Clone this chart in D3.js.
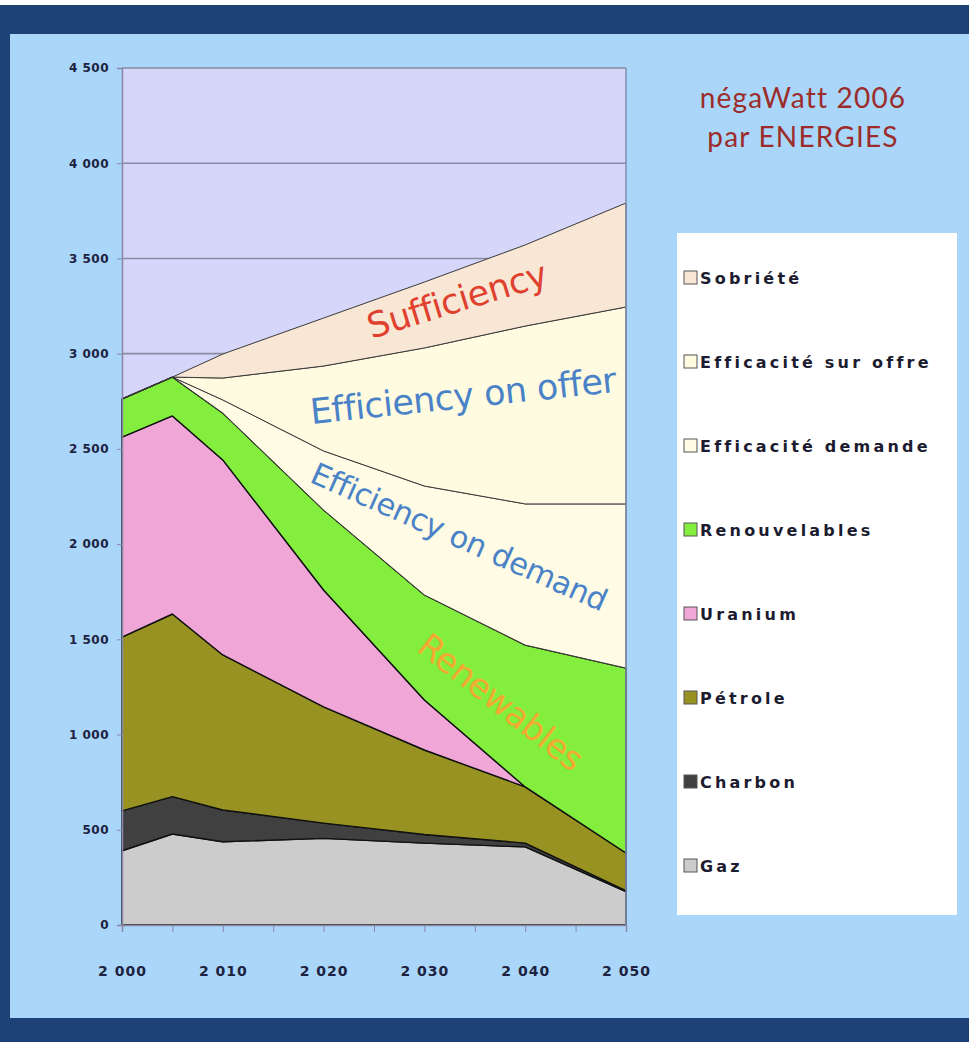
<!DOCTYPE html>
<html><head><meta charset="utf-8">
<script src="https://cdn.jsdelivr.net/npm/d3@7"></script>
<style>body{margin:0;} svg{display:block;}</style>
</head><body>
<script>
// ---- data ----
const years = [2000, 2005, 2010, 2020, 2030, 2040, 2050];
const gaz = [390, 478, 437, 455, 430, 410, 175];
const charbon = [209, 196, 167, 80, 45, 20, 5];
const petrole = [913, 959, 814, 610, 444, 295, 198];
const uranium = [1050, 1040, 1024, 614, 262, 0, 0];
const renouvelables = [200, 204, 246, 420, 552, 745, 971];
const efficaciteDemande = [0, 0, 69, 310, 572, 741, 862];
const efficaciteOffre = [0, 0, 115, 446, 725, 934, 1034];
const sobriete = [0, 0, 126, 252, 346, 426, 546];
const seriesNames = ["Gaz", "Charbon", "Pétrole", "Uranium", "Renouvelables", "Efficacité demande", "Efficacité sur offre", "Sobriété"];
const seriesColors = ["#cccccc", "#404040", "#989222", "#f0a6d6", "#84ee3e", "#fffbe4", "#fffbe0", "#f9e7d6"];
const yTicks = [0, 500, 1000, 1500, 2000, 2500, 3000, 3500, 4000, 4500];
const xTickLabels = [2000, 2010, 2020, 2030, 2040, 2050];
const title = ["négaWatt 2006", "par ENERGIES"];
const annotations = [
  {text: "Sufficiency", color: "#e0402e"},
  {text: "Efficiency on offer", color: "#4a82c8"},
  {text: "Efficiency on demand", color: "#4a82c8"},
  {text: "Renewables", color: "#f2aa30"}
];

const W = 969, H = 1042;
const svg = d3.select("body").append("svg").attr("width", W).attr("height", H);

// frame
svg.append("rect").attr("width", W).attr("height", H).attr("fill", "#1e4178");
svg.append("rect").attr("width", W).attr("height", 5).attr("fill", "#ffffff");
svg.append("rect").attr("x", 10).attr("y", 34).attr("width", W - 10).attr("height", 984).attr("fill", "#aad6f9");

const m = {left: 122, right: 626, top: 68, bottom: 925};
const x = d3.scaleLinear().domain([2000, 2050]).range([m.left, m.right]);
const y = d3.scaleLinear().domain([0, 4500]).range([m.bottom, m.top]);

// plot background
svg.append("rect").attr("x", m.left).attr("y", m.top).attr("width", m.right - m.left).attr("height", m.bottom - m.top).attr("fill", "#d6d6fa");

// gridlines
svg.append("g").selectAll("line").data(yTicks.filter(d => d > 0)).join("line")
  .attr("x1", m.left).attr("x2", m.right).attr("y1", d => y(d)).attr("y2", d => y(d))
  .attr("stroke", "#8a8aa2").attr("stroke-width", 1.6);

// stacked areas
const table = years.map((yr, i) => ({
  year: yr,
  "Gaz": gaz[i], "Charbon": charbon[i], "Pétrole": petrole[i], "Uranium": uranium[i],
  "Renouvelables": renouvelables[i], "Efficacité demande": efficaciteDemande[i],
  "Efficacité sur offre": efficaciteOffre[i], "Sobriété": sobriete[i]
}));
const stack = d3.stack().keys(seriesNames)(table);
const area = d3.area().x(d => x(d.data.year)).y0(d => y(d[0])).y1(d => y(d[1]));
svg.append("g").selectAll("path").data(stack).join("path")
  .attr("d", area)
  .attr("fill", (d, i) => seriesColors[i])
  .attr("stroke", (d, i) => i >= 5 ? "#3a3a3a" : "#111")
  .attr("stroke-width", (d, i) => i >= 5 ? 1 : 1.4)
  .attr("stroke-linejoin", "round");

// plot border right
svg.append("line").attr("x1", m.right).attr("x2", m.right).attr("y1", m.top).attr("y2", m.bottom)
  .attr("stroke", "#7f8fb0").attr("stroke-width", 1.5);

// axes
const yAxis = d3.axisLeft(y).tickValues(yTicks).tickSize(5).tickPadding(8)
  .tickFormat(d => d3.format(",")(d).replace(",", " "));
const gy = svg.append("g").attr("transform", `translate(${m.left},0)`).call(yAxis);
gy.select(".domain").attr("stroke", "#8888a4").attr("stroke-width", 1.5);
gy.selectAll(".tick line").attr("stroke", "#8888a4");
gy.selectAll("text").attr("font-family", "DejaVu Sans").attr("font-weight", "bold")
  .attr("font-size", 12).attr("fill", "#1c2240").attr("letter-spacing", 0.5);

const xAxis = d3.axisBottom(x).tickValues(d3.range(2000, 2051, 5)).tickSize(7).tickPadding(44)
  .tickFormat(d => xTickLabels.includes(d) ? d3.format(",")(d).replace(",", " ") : "");
const gx = svg.append("g").attr("transform", `translate(0,${m.bottom})`).call(xAxis);
gx.select(".domain").attr("stroke", "#8888a4").attr("stroke-width", 1.5);
gx.selectAll(".tick line").attr("stroke", "#8888a4");
gx.selectAll("text").attr("font-family", "DejaVu Sans").attr("font-weight", "bold")
  .attr("font-size", 14).attr("fill", "#1c2240").attr("letter-spacing", 1).attr("dy", "0");

// annotations
const annPos = [
  {cx: 457, cy: 300, rot: -17, size: 35},
  {cx: 463, cy: 396, rot: -6, size: 35},
  {cx: 459, cy: 537, rot: 24, size: 30.5},
  {cx: 501, cy: 702, rot: 38, size: 34}
];
svg.append("g").selectAll("text").data(annotations).join("text")
  .attr("transform", (d, i) => `translate(${annPos[i].cx},${annPos[i].cy}) rotate(${annPos[i].rot})`)
  .attr("text-anchor", "middle").attr("dominant-baseline", "central")
  .attr("font-family", "DejaVu Sans").attr("font-size", (d, i) => annPos[i].size)
  .attr("letter-spacing", -0.5)
  .attr("fill", d => d.color).text(d => d.text);

// title
svg.append("g").selectAll("text").data(title).join("text")
  .attr("x", 803).attr("y", (d, i) => 108 + i * 39)
  .attr("text-anchor", "middle").attr("font-family", "Lato").attr("font-size", 28)
  .attr("letter-spacing", 1.2)
  .attr("fill", "#9c2c2a").text(d => d);

// legend
svg.append("rect").attr("x", 677).attr("y", 233).attr("width", 280).attr("height", 682).attr("fill", "#ffffff");
const legendOrder = seriesNames.map((n, i) => ({name: n, color: seriesColors[i]})).reverse();
const lg = svg.append("g").selectAll("g").data(legendOrder).join("g")
  .attr("transform", (d, i) => `translate(684,${278 + i * 84})`);
lg.append("rect").attr("x", 0).attr("y", -7).attr("width", 13).attr("height", 13)
  .attr("fill", d => d.color).attr("stroke", "#555").attr("stroke-width", 1);
lg.append("text").attr("x", 16).attr("y", 0).attr("dominant-baseline", "central")
  .attr("font-family", "DejaVu Sans").attr("font-weight", "bold").attr("font-size", 16)
  .attr("letter-spacing", 3.2).attr("fill", "#1c1c30").text(d => d.name);
</script>
</body></html>
